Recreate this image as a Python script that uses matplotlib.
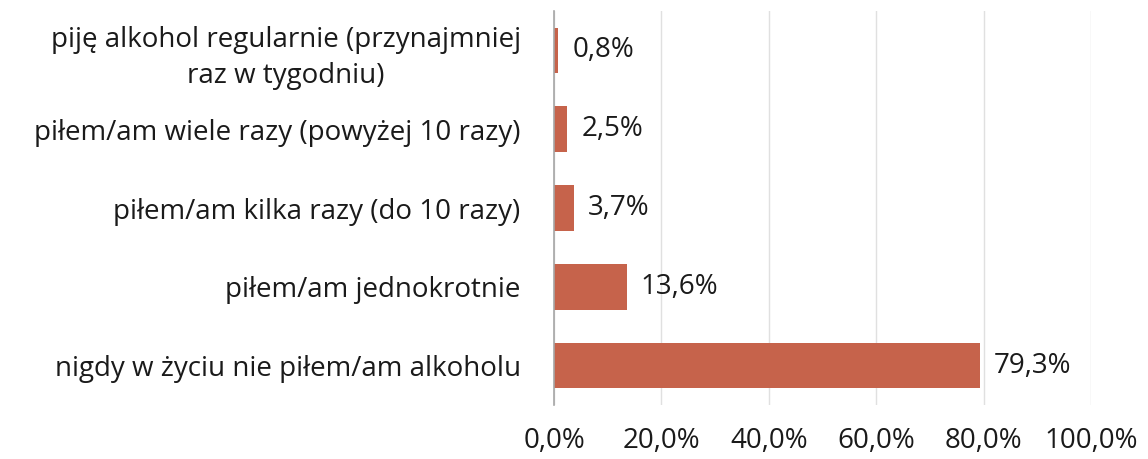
import matplotlib
matplotlib.use("Agg")
import matplotlib.pyplot as plt
from matplotlib.ticker import FuncFormatter

categories = [
    "nigdy w życiu nie piłem/am alkoholu",
    "piłem/am jednokrotnie",
    "piłem/am kilka razy (do 10 razy)",
    "piłem/am wiele razy (powyżej 10 razy)",
    "piję alkohol regularnie (przynajmniej\nraz w tygodniu)",
]
values = [79.3, 13.6, 3.7, 2.5, 0.8]
xticks = [0, 20, 40, 60, 80, 100]

FS = 20
plt.rcParams['font.family'] = ['Open Sans', 'DejaVu Sans']
fig = plt.figure(figsize=(11.48, 4.59), dpi=100)
ax = fig.add_axes([0.4826, 0.1176, 0.4677, 0.8584])

ypos = list(range(len(categories)))
ax.barh(ypos, values, height=0.58, color='#C6634B', zorder=3)
for y, v in zip(ypos, values):
    ax.annotate(f"{v:.1f}%".replace('.', ','), (v, y), xytext=(10, 0),
                textcoords='offset points', va='center', ha='left',
                fontsize=FS, color='#1a1a1a')

ax.set_xlim(0, 100)
ax.set_ylim(-0.5, 4.5)
ax.set_xticks(xticks)
ax.xaxis.set_major_formatter(FuncFormatter(lambda x, p: f"{x:.1f}%".replace('.', ',')))
ax.set_yticks(ypos)
ax.set_yticklabels(categories)
for lab in ax.get_yticklabels():
    lab.set_multialignment('center')
    lab.set_linespacing(1.4)
ax.tick_params(axis='both', length=0, labelsize=FS, colors='#1a1a1a')
ax.tick_params(axis='y', pad=24)
ax.tick_params(axis='x', pad=16)
ax.grid(axis='x', color='#E0E0E0', linewidth=1, zorder=0)
for s in ['top', 'right', 'bottom']:
    ax.spines[s].set_visible(False)
ax.spines['left'].set_color('#A6A6A6')
ax.spines['left'].set_linewidth(1.2)
ax.spines['left'].set_zorder(4)

fig.savefig('out.png', dpi=100)
